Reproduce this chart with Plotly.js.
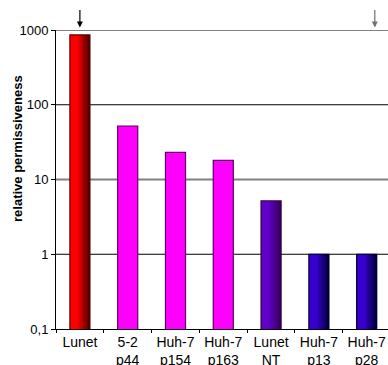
<!DOCTYPE html>
<html><head><meta charset="utf-8">
<script src="https://cdn.plot.ly/plotly-3.0.1.min.js"></script>
<style>html,body{margin:0;padding:0;background:#fff}#c{width:388px;height:365px}</style>
</head><body><div id="c"></div>
<script>
var categories = ["Lunet","5-2<br>p44","Huh-7<br>p154","Huh-7<br>p163","Lunet<br>NT","Huh-7<br>p13","Huh-7<br>p28"];
var values = [863, 52, 23, 18, 5.2, 1, 1];
var colorLeft = ["#ff0000","#ff00ff","#ff00ff","#ff00ff","#6000c8","#3800d0","#3800d0"];
var colorRight = ["#500000","#ff00ff","#ff00ff","#ff00ff","#380060","#000040","#000040"];
var edgeColors = ["#600000","#600060","#600060","#600060","#300040","#000030","#000030"];
var yTickVals = [0.1, 1, 10, 100, 1000];
var yTickText = ["0,1", "1", "10", "100", "1000"];
var yTitle = "relative permissiveness";
var arrowCats = [0, 6.17];
var arrowColors = ["#000000", "#707070"];

function hex2rgb(h){return [parseInt(h.substr(1,2),16),parseInt(h.substr(3,2),16),parseInt(h.substr(5,2),16)];}
function mix(a,b,t){var A=hex2rgb(a),B=hex2rgb(b);return 'rgb('+A.map(function(v,i){return Math.round(v+(B[i]-v)*t);}).join(',')+')';}

var W = 0.42, N = 12;
var traces = [];
for (var i = 0; i < N; i++) {
  var t = i/(N-1);
  var tt = t < 0.35 ? 0 : (t-0.35)/0.65;
  traces.push({
    type:'bar', x:categories, y:values, width:W/N+0.002, offset:-W/2 + i*W/N,
    marker:{color:colorLeft.map(function(c,k){return mix(c,colorRight[k],tt);}), line:{width:0}},
    hoverinfo:'skip', showlegend:false
  });
}
traces.push({
  type:'bar', x:categories, y:values, width:W, offset:-W/2,
  marker:{color:'rgba(0,0,0,0)', line:{color:edgeColors, width:1.2}},
  hoverinfo:'skip', showlegend:false
});

var shapes = yTickVals.slice(1).map(function(v,k){
  var gray = (k%2===1);
  return {type:'line', xref:'paper', x0:0, x1:1, yref:'y', y0:v, y1:v,
    layer:'below', line:{color: gray ? '#808080' : '#000000', width: gray ? 2 : 1}};
});

var annotations = arrowCats.map(function(xc,k){
  return {x:xc, xref:'x', y:1.008, yref:'paper', text:'', showarrow:true, ax:0, ay:-19,
    arrowhead:2, arrowsize:1, arrowwidth:1.2, arrowcolor:arrowColors[k], standoff:0};
});
annotations.push({x:0, xref:'paper', xshift:-39, y:0.602, yref:'paper', text:'<b>'+yTitle+'</b>',
  textangle:-90, showarrow:false, xanchor:'center', yanchor:'middle', font:{size:13, color:'#000'}});

var layout = {
  width:388, height:365,
  margin:{l:56, r:0, t:30, b:36, pad:0},
  paper_bgcolor:'#fff', plot_bgcolor:'#fff',
  barmode:'overlay', bargap:0,
  font:{family:'Liberation Sans, Arial, sans-serif', size:13, color:'#000'},
  xaxis:{type:'category', range:[-0.5, 6.446], showgrid:false, showline:true, linecolor:'#000', linewidth:1,
    ticks:'outside', tickson:'boundaries', ticklen:3, tickcolor:'#000', tickfont:{size:14}, fixedrange:true},
  yaxis:{type:'log', range:[-1, 3], showgrid:false, showline:true, linecolor:'#000', linewidth:1,
    ticks:'outside', ticklen:4, tickcolor:'#000', tickvals:yTickVals, ticktext:yTickText, tickfont:{size:13},
    zeroline:false},
  shapes:shapes, annotations:annotations
};
Plotly.newPlot('c', traces, layout, {displayModeBar:false, staticPlot:true});
</script></body></html>
